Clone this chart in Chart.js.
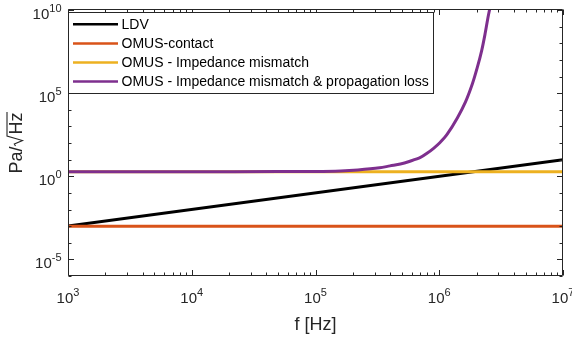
<!DOCTYPE html>
<html><head><meta charset="utf-8">
<script src="https://cdn.jsdelivr.net/npm/chart.js@4/dist/chart.umd.min.js"></script>
<style>html,body{margin:0;padding:0;background:#fff;} #wrap{width:572px;height:337px;position:relative;}</style>
</head><body><div id="wrap"><canvas id="c" width="572" height="337"></canvas></div>
<script>
// ---- data ----
const seriesLabels = ['LDV', 'OMUS-contact', 'OMUS - Impedance mismatch', 'OMUS - Impedance mismatch & propagation loss'];
const seriesColors = ['#000000', '#D95319', '#EDB120', '#7E2F8E'];

const ldvFreq = [1e3, 1e7];
const ldvVal = [1e-3, 1e1];

const contactFreq = [1e3, 1e7];
const contactVal = [1e-3, 1e-3];

const impFreq = [1e3, 1e7];
const impVal = [1.87, 1.87];

const lossFreq = [1e3, 1e4, 5e4, 1e5, 1.6e5, 2.2e5, 3.3e5, 4.0e5, 4.85e5, 5.8e5, 7.05e5, 7.96e5, 9.0e5, 1.01e6, 1.16e6, 1.40e6, 1.63e6, 1.85e6, 2.03e6, 2.20e6, 2.34e6, 2.47e6, 2.57e6, 2.7e6];
const lossVal  = [1.87, 1.87, 1.9, 1.95, 2.1, 2.4, 3.2, 4.2, 5.4, 8.0, 13.5, 24, 48, 104, 340, 3.2e3, 2.95e4, 3.5e5, 3.5e6, 3.5e7, 3.3e8, 3.2e9, 1.4e10, 1e11];

const xTickValues = [1e3, 1e4, 1e5, 1e6, 1e7];
const xTickExp = ['3', '4', '5', '6', '7'];
const yTickValues = [1e-5, 1e0, 1e5, 1e10];
const yTickExp = ['-5', '0', '5', '10'];
const xTitle = 'f [Hz]';
const yTitleParts = ['Pa/', 'Hz'];

// ---- styles ----
const AXIS = '#262626';
const FONT = '"Liberation Sans", Arial, Helvetica, sans-serif';

function pts(fx, fy) { return fx.map((v, i) => ({x: v, y: fy[i]})); }

const datasets = [
  {label: seriesLabels[0], data: pts(ldvFreq, ldvVal), order: 4},
  {label: seriesLabels[1], data: pts(contactFreq, contactVal), order: 3},
  {label: seriesLabels[2], data: pts(impFreq, impVal), order: 2},
  {label: seriesLabels[3], data: pts(lossFreq, lossVal), order: 1, tension: 0.3}
].map((d, i) => Object.assign({
  borderColor: seriesColors[i], backgroundColor: seriesColors[i], borderWidth: 3,
  pointRadius: 0, fill: false, clip: 0, tension: 0, showLine: true
}, d));

function supLabel(ctx, base, exp, x, y, align) {
  ctx.font = '15px ' + FONT;
  const wb = ctx.measureText(base).width;
  ctx.font = '11px ' + FONT;
  const we = ctx.measureText(exp).width;
  let sx;
  if (align === 'center') sx = x - (wb + we) / 2;
  else sx = x - (wb + we);
  ctx.textAlign = 'left';
  ctx.textBaseline = 'alphabetic';
  ctx.font = '15px ' + FONT;
  ctx.fillText(base, sx, y);
  ctx.font = '11px ' + FONT;
  ctx.fillText(exp, sx + wb, y - 7);
}

const axesPlugin = {
  id: 'matlabAxes',
  afterDatasetsDraw(chart) {
    const {ctx, chartArea: ca, scales: {x, y}} = chart;
    ctx.save();
    ctx.strokeStyle = AXIS;
    ctx.lineWidth = 1;
    const L = Math.round(ca.left) + 0.5, R = Math.round(ca.right) - 0.5;
    const T = Math.round(ca.top) - 0.5, B = Math.round(ca.bottom) - 0.5;
    ctx.beginPath();
    ctx.rect(L, T, R - L, B - T);
    // x ticks
    for (let d = 3; d <= 7; d++) {
      for (let m = 1; m <= 9; m++) {
        if (d === 7 && m > 1) break;
        const v = m * Math.pow(10, d);
        const px = Math.round(x.getPixelForValue(v)) + 0.5;
        const len = m === 1 ? 5.5 : 3;
        ctx.moveTo(px, B); ctx.lineTo(px, B - len);
        ctx.moveTo(px, T); ctx.lineTo(px, T + len);
      }
    }
    // y ticks
    for (let d = -6; d <= 10; d++) {
      const py = Math.round(y.getPixelForValue(Math.pow(10, d))) + 0.5;
      const len = (d % 5 === 0) ? 5.5 : 3;
      ctx.moveTo(L, py); ctx.lineTo(L + len, py);
      ctx.moveTo(R, py); ctx.lineTo(R - len, py);
    }
    ctx.stroke();

    // tick labels
    ctx.fillStyle = AXIS;
    xTickValues.forEach((v, i) => supLabel(ctx, '10', xTickExp[i], x.getPixelForValue(v), 303, 'center'));
    yTickValues.forEach((v, i) => supLabel(ctx, '10', yTickExp[i], 61.5, y.getPixelForValue(v) + 9, 'right'));

    // x title
    ctx.font = '18px ' + FONT;
    ctx.textAlign = 'center';
    ctx.textBaseline = 'alphabetic';
    ctx.fillText(xTitle, (ca.left + ca.right) / 2, 329.5);

    // y title (rotated) Pa/√Hz
    ctx.save();
    ctx.translate(21.5, (ca.top + ca.bottom) / 2);
    ctx.rotate(-Math.PI / 2);
    ctx.font = '18px ' + FONT;
    ctx.textAlign = 'left';
    const w1 = ctx.measureText(yTitleParts[0]).width;
    const w3 = ctx.measureText(yTitleParts[1]).width;
    const wr = 12;
    const total = w1 + wr + w3;
    let sx = -total / 2;
    ctx.fillText(yTitleParts[0], sx, 0);
    const rx = sx + w1;
    ctx.beginPath();
    ctx.lineWidth = 1.1;
    ctx.moveTo(rx + 0.5, -6);
    ctx.lineTo(rx + 2.5, -7.2);
    ctx.lineTo(rx + 6, 1);
    ctx.lineTo(rx + 10.5, -14.5);
    ctx.lineTo(rx + wr + w3 + 0.5, -14.5);
    ctx.stroke();
    ctx.fillText(yTitleParts[1], rx + wr, 0);
    ctx.restore();
    ctx.restore();
  },
  afterDraw(chart) {
    const {ctx} = chart;
    ctx.save();
    const bx = 68.5, by = 12.5, bw = 365, bh = 81;
    ctx.fillStyle = '#ffffff';
    ctx.fillRect(bx, by, bw, bh);
    ctx.strokeStyle = AXIS;
    ctx.lineWidth = 1;
    ctx.strokeRect(bx, by, bw, bh);
    ctx.font = '14px ' + FONT;
    ctx.textAlign = 'left';
    ctx.textBaseline = 'middle';
    chart.data.datasets.forEach((ds, i) => {
      const cy = 24.3 + i * 19.1;
      ctx.strokeStyle = ds.borderColor;
      ctx.lineWidth = 2.5;
      ctx.beginPath();
      ctx.moveTo(73, cy); ctx.lineTo(118, cy);
      ctx.stroke();
      ctx.fillStyle = '#000000';
      ctx.fillText(ds.label, 121.5, cy + 0.5);
    });
    ctx.restore();
  }
};

new Chart(document.getElementById('c'), {
  type: 'line',
  data: {datasets},
  options: {
    responsive: false,
    devicePixelRatio: 1,
    animation: false,
    parsing: true,
    layout: {padding: {left: 68, right: 9, top: 10, bottom: 61}},
    plugins: {legend: {display: false}, tooltip: {enabled: false}},
    scales: {
      x: {type: 'logarithmic', min: 1e3, max: 1e7, display: true,
          grid: {display: false, drawTicks: false, tickLength: 0}, border: {display: false},
          ticks: {display: false}, title: {display: false}},
      y: {type: 'logarithmic', min: 1e-6, max: 1e10, display: true,
          grid: {display: false, drawTicks: false, tickLength: 0}, border: {display: false},
          ticks: {display: false}, title: {display: false}}
    }
  },
  plugins: [axesPlugin]
});
</script></body></html>
